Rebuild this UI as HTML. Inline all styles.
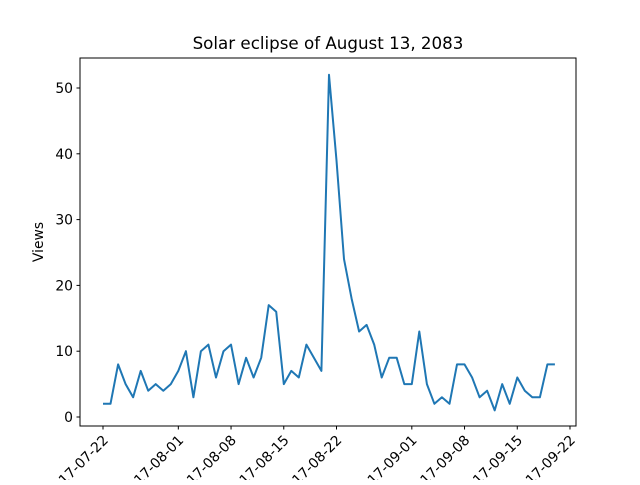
<!DOCTYPE html>
<html><head><meta charset="utf-8"><style>
body{margin:0;background:#fff}
svg text{font-family:"DejaVu Sans","Liberation Sans",sans-serif;font-size:13.9px;fill:#000}
</style></head><body>
<svg id="chart" width="640" height="480">
<rect x="0" y="0" width="640" height="480" fill="#fff"/>
<text x="328" y="49" text-anchor="middle" style="font-size:16.7px">Solar eclipse of August 13, 2083</text>
<text transform="translate(43,242) rotate(-90)" text-anchor="middle">Views</text>
<g id="yticks"></g>
<g id="xticks"></g>
<path id="line" fill="none" stroke="#1f77b4" stroke-width="2" stroke-linejoin="round"/>
<rect x="80" y="58" width="496" height="368" fill="none" stroke="#000" stroke-width="1"/>
</svg>
<script>
const startDate = "2017-07-22";
const views = [2,2,8,5,3,7,4,5,4,5,7,10,3,10,11,6,10,11,5,9,6,9,17,16,5,7,6,11,9,7,52,39,24,18,13,14,11,6,9,9,5,5,13,5,2,3,2,8,8,6,3,4,1,5,2,6,4,3,3,8,8];
const yTicks = [0,10,20,30,40,50];
const xTickLabels = ["2017-07-22","2017-08-01","2017-08-08","2017-08-15","2017-08-22","2017-09-01","2017-09-08","2017-09-15","2017-09-22"];

const NS="http://www.w3.org/2000/svg";
const day0 = Date.parse(startDate+"T00:00:00Z");
function dayOf(s){return (Date.parse(s+"T00:00:00Z")-day0)/86400000;}
function xs(d){return 103 + d*7.532;}
function ys(v){return 417 - v*6.58;}
const yg=document.getElementById('yticks'), xg=document.getElementById('xticks');
yTicks.forEach(t=>{
  const y=ys(t);
  const l=document.createElementNS(NS,'line');
  l.setAttribute('x1',76.5);l.setAttribute('x2',80);l.setAttribute('y1',y);l.setAttribute('y2',y);l.setAttribute('stroke','#000');
  
  
  yg.appendChild(l);
  const tx=document.createElementNS(NS,'text');
  tx.setAttribute('x',73);tx.setAttribute('y',y+5);tx.setAttribute('text-anchor','end');tx.textContent=t;
  
  
  yg.appendChild(tx);
});
xTickLabels.forEach(s=>{
  const x=xs(dayOf(s));
  const l=document.createElementNS(NS,'line');
  l.setAttribute('x1',x);l.setAttribute('x2',x);l.setAttribute('y1',426);l.setAttribute('y2',429.5);l.setAttribute('stroke','#000');
  
  
  xg.appendChild(l);
  const tx=document.createElementNS(NS,'text');
  tx.setAttribute('text-anchor','end');
  tx.setAttribute('transform','translate('+(x+6)+',441) rotate(-45)');
  tx.textContent=s;
  
  
  xg.appendChild(tx);
});
document.getElementById('line').setAttribute('d',views.map((v,i)=>(i?'L':'M')+xs(i).toFixed(1)+','+ys(v).toFixed(1)).join(''));
</script>
</body></html>
